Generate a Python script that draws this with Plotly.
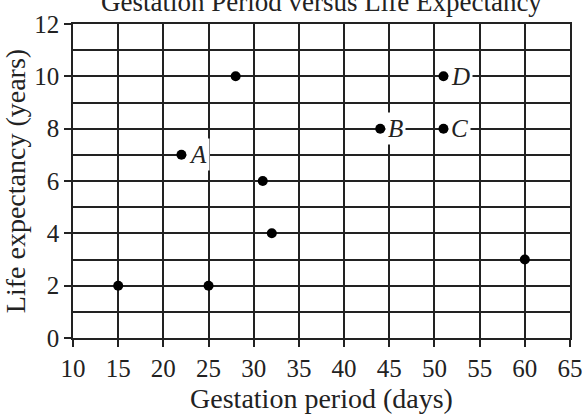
import plotly.graph_objects as go

gestation = [15, 22, 25, 28, 31, 32, 44, 51, 51, 60]
life = [2, 7, 2, 10, 6, 4, 8, 10, 8, 3]
labels = ["", "A", "", "", "", "", "B", "D", "C", ""]
x_ticks = [10, 15, 20, 25, 30, 35, 40, 45, 50, 55, 60, 65]
y_ticks = [0, 2, 4, 6, 8, 10, 12]

FONT = "Liberation Serif"
INK = "#222"

fig = go.Figure()
fig.add_trace(go.Scatter(
    x=gestation, y=life, mode="markers",
    marker=dict(color="black", size=10),
    showlegend=False, cliponaxis=False,
))

for gx, ly, lab in zip(gestation, life, labels):
    if lab:
        fig.add_annotation(
            x=gx, y=ly, text=f"<i>{lab}</i>", showarrow=False,
            xanchor="left", yanchor="middle", xshift=5,
            bgcolor="white", borderpad=2,
            font=dict(family=FONT, size=25, color=INK),
        )

fig.add_annotation(
    text="Gestation Period versus Life Expectancy",
    xref="paper", yref="paper", x=0.5, y=1, yshift=22,
    xanchor="center", yanchor="middle", showarrow=False,
    font=dict(family=FONT, size=27, color=INK),
)

axis_common = dict(
    showline=True, linecolor=INK, linewidth=1.5, mirror=True,
    showgrid=True, gridcolor=INK, gridwidth=1.5,
    zeroline=False, ticks="outside", tickcolor=INK, tickwidth=1.5,
    ticklen=7, automargin=False, ticklabeloverflow="allow",
    tickfont=dict(family=FONT, size=25, color=INK),
)

fig.update_xaxes(
    range=[10, 65], tickvals=x_ticks,
    title=dict(text="Gestation period (days)", font=dict(family=FONT, size=28, color=INK), standoff=8),
    **axis_common,
)
fig.update_yaxes(
    range=[0, 12], tickvals=y_ticks,
    minor=dict(dtick=1, showgrid=True, gridcolor=INK, gridwidth=1.5, ticks=""),
    title=dict(text="Life expectancy (years)", font=dict(family=FONT, size=28, color=INK), standoff=6),
    **axis_common,
)

fig.update_layout(
    width=584, height=420,
    margin=dict(l=73, r=14, t=24, b=82),
    paper_bgcolor="white", plot_bgcolor="white",
    font=dict(family=FONT, color=INK),
)

fig.write_html("out.html")
